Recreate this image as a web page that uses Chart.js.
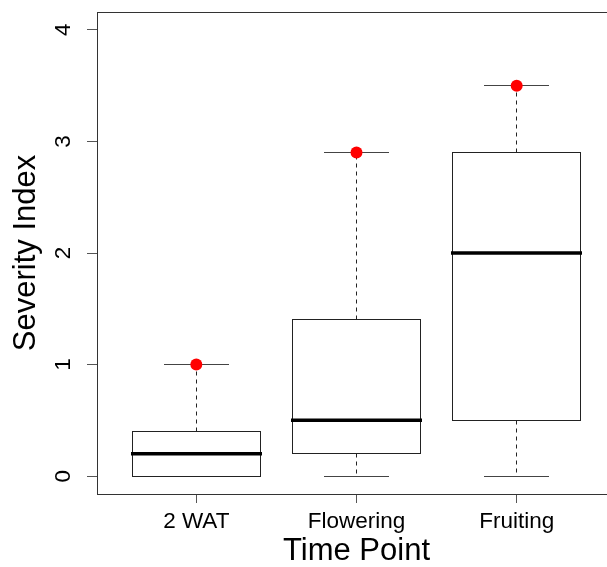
<!DOCTYPE html>
<html><head><meta charset="utf-8">
<script src="https://cdn.jsdelivr.net/npm/chart.js@4/dist/chart.umd.min.js"></script>
<style>html,body{margin:0;padding:0;background:#fff;overflow:hidden;width:607px;height:567px}canvas{display:block}</style>
</head><body>
<canvas id="c" width="640" height="567"></canvas>
<script>
const categories = ['2 WAT', 'Flowering', 'Fruiting'];
const mins = [0, 0, 0];
const q1s = [0, 0.2, 0.5];
const medians = [0.2, 0.5, 2.0];
const q3s = [0.4, 1.4, 2.9];
const maxs = [1.0, 2.9, 3.5];
const highlights = [1.0, 2.9, 3.5];
const yTicks = [0, 1, 2, 3, 4];
const xTitle = 'Time Point';
const yTitle = 'Severity Index';

const FONT = "'Liberation Sans', Arial, sans-serif";

function line(ctx, x1, y1, x2, y2) {
  ctx.beginPath(); ctx.moveTo(x1, y1); ctx.lineTo(x2, y2); ctx.stroke();
}
const r5 = v => Math.round(v - 0.5) + 0.5;

const boxPlugin = {
  id: 'boxes',
  beforeDatasetsDraw(chart) {
    const {ctx, scales: {x, y}, chartArea} = chart;
    ctx.save();
    categories.forEach((c, i) => {
      const xc = r5(x.getPixelForValue(i + 1));
      const hw = x.getPixelForValue(i + 1 + 0.4) - x.getPixelForValue(i + 1);
      const cw = hw / 2;
      const pMin = r5(y.getPixelForValue(mins[i]));
      const pQ1 = r5(y.getPixelForValue(q1s[i]));
      const pMed = y.getPixelForValue(medians[i]);
      const pQ3 = r5(y.getPixelForValue(q3s[i]));
      const pMax = r5(y.getPixelForValue(maxs[i]));
      ctx.strokeStyle = '#222';
      ctx.lineWidth = 1;
      ctx.setLineDash([4, 4]);
      if (pMax < pQ3) line(ctx, xc, pQ3, xc, pMax);
      if (pMin > pQ1) line(ctx, xc, pQ1, xc, pMin);
      ctx.setLineDash([]);
      ctx.strokeStyle = '#444';
      line(ctx, Math.round(xc - cw), pMax, Math.round(xc + cw), pMax);
      line(ctx, Math.round(xc - cw), pMin, Math.round(xc + cw), pMin);
      const bl = r5(xc - hw), br = r5(xc + hw);
      ctx.fillStyle = '#fff';
      ctx.fillRect(bl, pQ3, br - bl, pQ1 - pQ3);
      ctx.strokeStyle = '#222';
      ctx.strokeRect(bl, pQ3, br - bl, pQ1 - pQ3);
      ctx.strokeStyle = '#000';
      ctx.lineWidth = 3.5;
      line(ctx, bl - 1.5, pMed, br + 1.5, pMed);
    });
    ctx.lineWidth = 1;
    ctx.strokeStyle = '#333';
    ctx.strokeRect(r5(chartArea.left), r5(chartArea.top), Math.round(chartArea.right - chartArea.left), Math.round(chartArea.bottom - chartArea.top));
    ctx.restore();
  }
};

new Chart(document.getElementById('c'), {
  type: 'scatter',
  data: {
    datasets: [{
      data: highlights.map((v, i) => ({x: i + 1, y: v})),
      backgroundColor: '#ff0000',
      borderWidth: 0,
      pointRadius: 6,
      pointHoverRadius: 6
    }]
  },
  options: {
    responsive: false,
    animation: false,
    devicePixelRatio: 1,
    events: [],
    layout: {padding: {left: 0, top: 12, right: 24, bottom: 0}},
    plugins: {legend: {display: false}, tooltip: {enabled: false}},
    scales: {
      x: {
        type: 'linear', min: 0.38, max: 3.62,
        afterBuildTicks: s => { s.ticks = categories.map((c, i) => ({value: i + 1})); },
        afterFit: s => { s.height = 73; s.paddingLeft = 0; s.paddingRight = 0; },
        grid: {drawOnChartArea: false, drawTicks: true, tickLength: 9, color: '#555'},
        border: {display: false},
        ticks: {
          callback: v => categories[Math.round(v) - 1],
          font: {family: FONT, size: 22.5}, color: '#000', padding: 5,
          maxRotation: 0, minRotation: 0, autoSkip: false
        },
        title: {display: true, text: xTitle, font: {family: FONT, size: 31, lineHeight: 1}, color: '#000', padding: {top: 0, bottom: 0}}
      },
      y: {
        min: -0.16, max: 4.16,
        afterBuildTicks: s => { s.ticks = yTicks.map(v => ({value: v})); },
        afterFit: s => { s.width = 97; s.paddingTop = 0; s.paddingBottom = 0; },
        grid: {drawOnChartArea: false, drawTicks: true, tickLength: 10, color: '#555'},
        border: {display: false},
        ticks: {
          callback: v => String(v),
          font: {family: FONT, size: 22.5}, color: '#000', padding: 17,
          minRotation: 90, maxRotation: 90, crossAlign: 'center', autoSkip: false
        },
        title: {display: true, text: yTitle, font: {family: FONT, size: 31, lineHeight: 1}, color: '#000', padding: {top: 11, bottom: 0}}
      }
    }
  },
  plugins: [boxPlugin]
});
</script>
</body></html>
